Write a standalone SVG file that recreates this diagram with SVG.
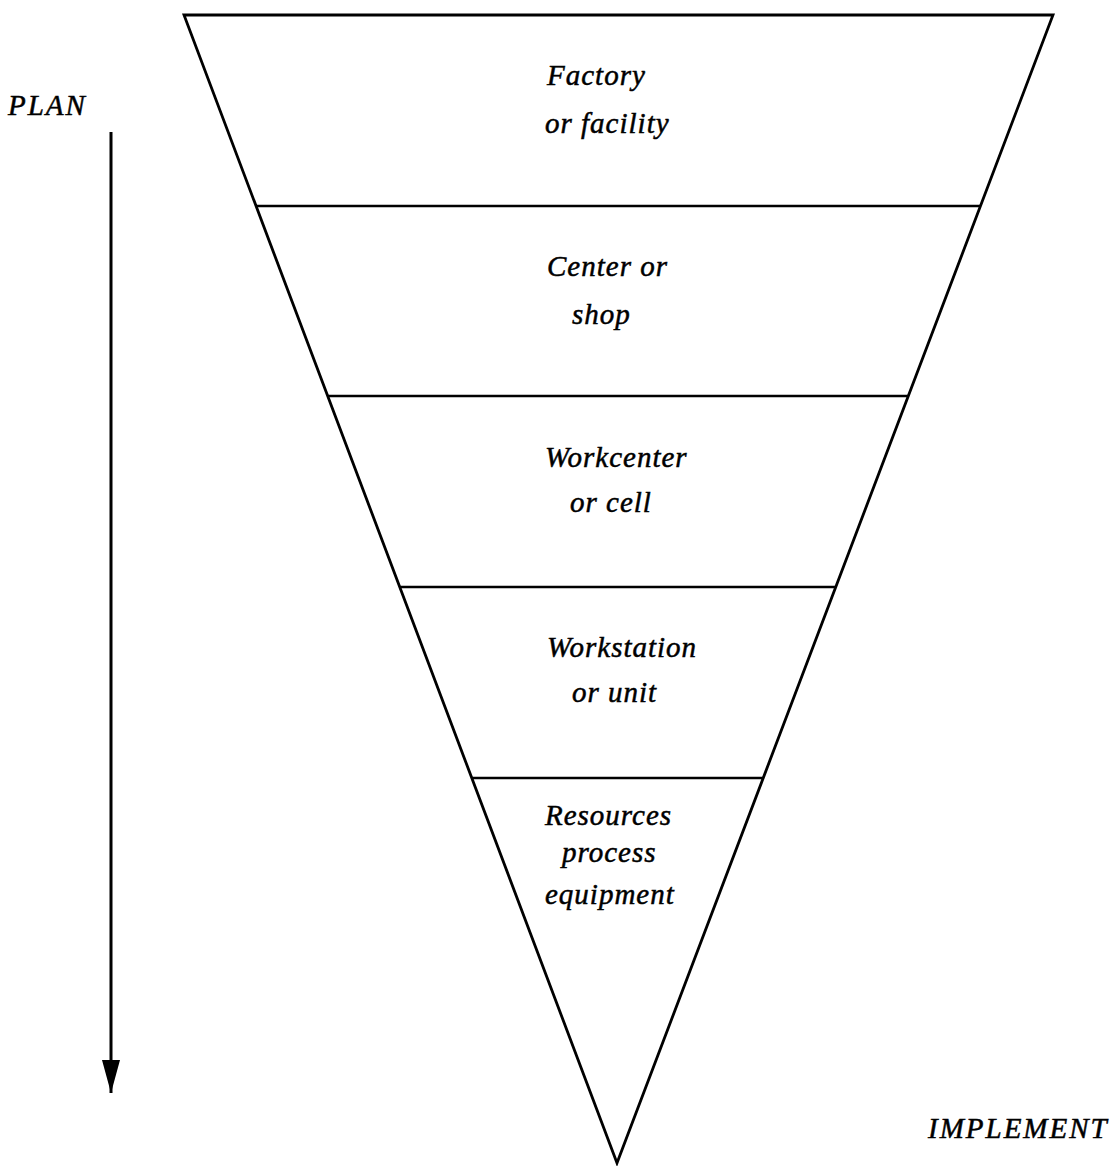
<svg xmlns="http://www.w3.org/2000/svg" width="1115" height="1166" viewBox="0 0 1115 1166">
  <style>
    .edge { fill: none; stroke: #000; stroke-width: 2.8; stroke-linejoin: miter; }
    .tier { stroke: #000; stroke-width: 2.4; }
    .lbl { font-family: "Liberation Serif", "Times New Roman", serif; font-style: italic; font-size: 29px; letter-spacing: 1px; fill: #000; stroke: #000; stroke-width: 0.5; }
    .axis { letter-spacing: 2px; }
  </style>
  <defs>
    <marker id="head" markerWidth="36" markerHeight="20" refX="33" refY="9" orient="auto" markerUnits="userSpaceOnUse">
      <path d="M0,0 L33,9 L0,18 Z" fill="#000"/>
    </marker>
  </defs>
  <rect width="1115" height="1166" fill="#fff"/>

  <!-- inverted triangle outline -->
  <g id="pyramid">
    <path class="edge" d="M184,15 L1053,15 L617,1163 Z"/>
  </g>

  <!-- tier dividers -->
  <g id="dividers">
    <line class="tier" x1="256" y1="206" x2="981" y2="206"/>
    <line class="tier" x1="328" y1="396" x2="909" y2="396"/>
    <line class="tier" x1="400" y1="587" x2="836" y2="587"/>
    <line class="tier" x1="472" y1="778" x2="763" y2="778"/>
  </g>

  <g id="tier-factory">
    <text class="lbl" x="547" y="85">Factory</text>
    <text class="lbl" x="545" y="133">or facility</text>
  </g>
  <g id="tier-center">
    <text class="lbl" x="547" y="276">Center or</text>
    <text class="lbl" x="572" y="324">shop</text>
  </g>
  <g id="tier-workcenter">
    <text class="lbl" x="545" y="467">Workcenter</text>
    <text class="lbl" x="570" y="512">or cell</text>
  </g>
  <g id="tier-workstation">
    <text class="lbl" x="547" y="657">Workstation</text>
    <text class="lbl" x="572" y="702">or unit</text>
  </g>
  <g id="tier-resources">
    <text class="lbl" x="545" y="825">Resources</text>
    <text class="lbl" x="562" y="862">process</text>
    <text class="lbl" x="545" y="904">equipment</text>
  </g>

  <g id="plan-label">
    <text class="lbl axis" x="8" y="115">PLAN</text>
  </g>
  <g id="implement-label">
    <text class="lbl axis" x="928" y="1138">IMPLEMENT</text>
  </g>

  <!-- plan-to-implement direction arrow -->
  <g id="connectors">
    <line x1="111" y1="132" x2="111" y2="1093" stroke="#000" stroke-width="3" marker-end="url(#head)"/>
  </g>
</svg>
